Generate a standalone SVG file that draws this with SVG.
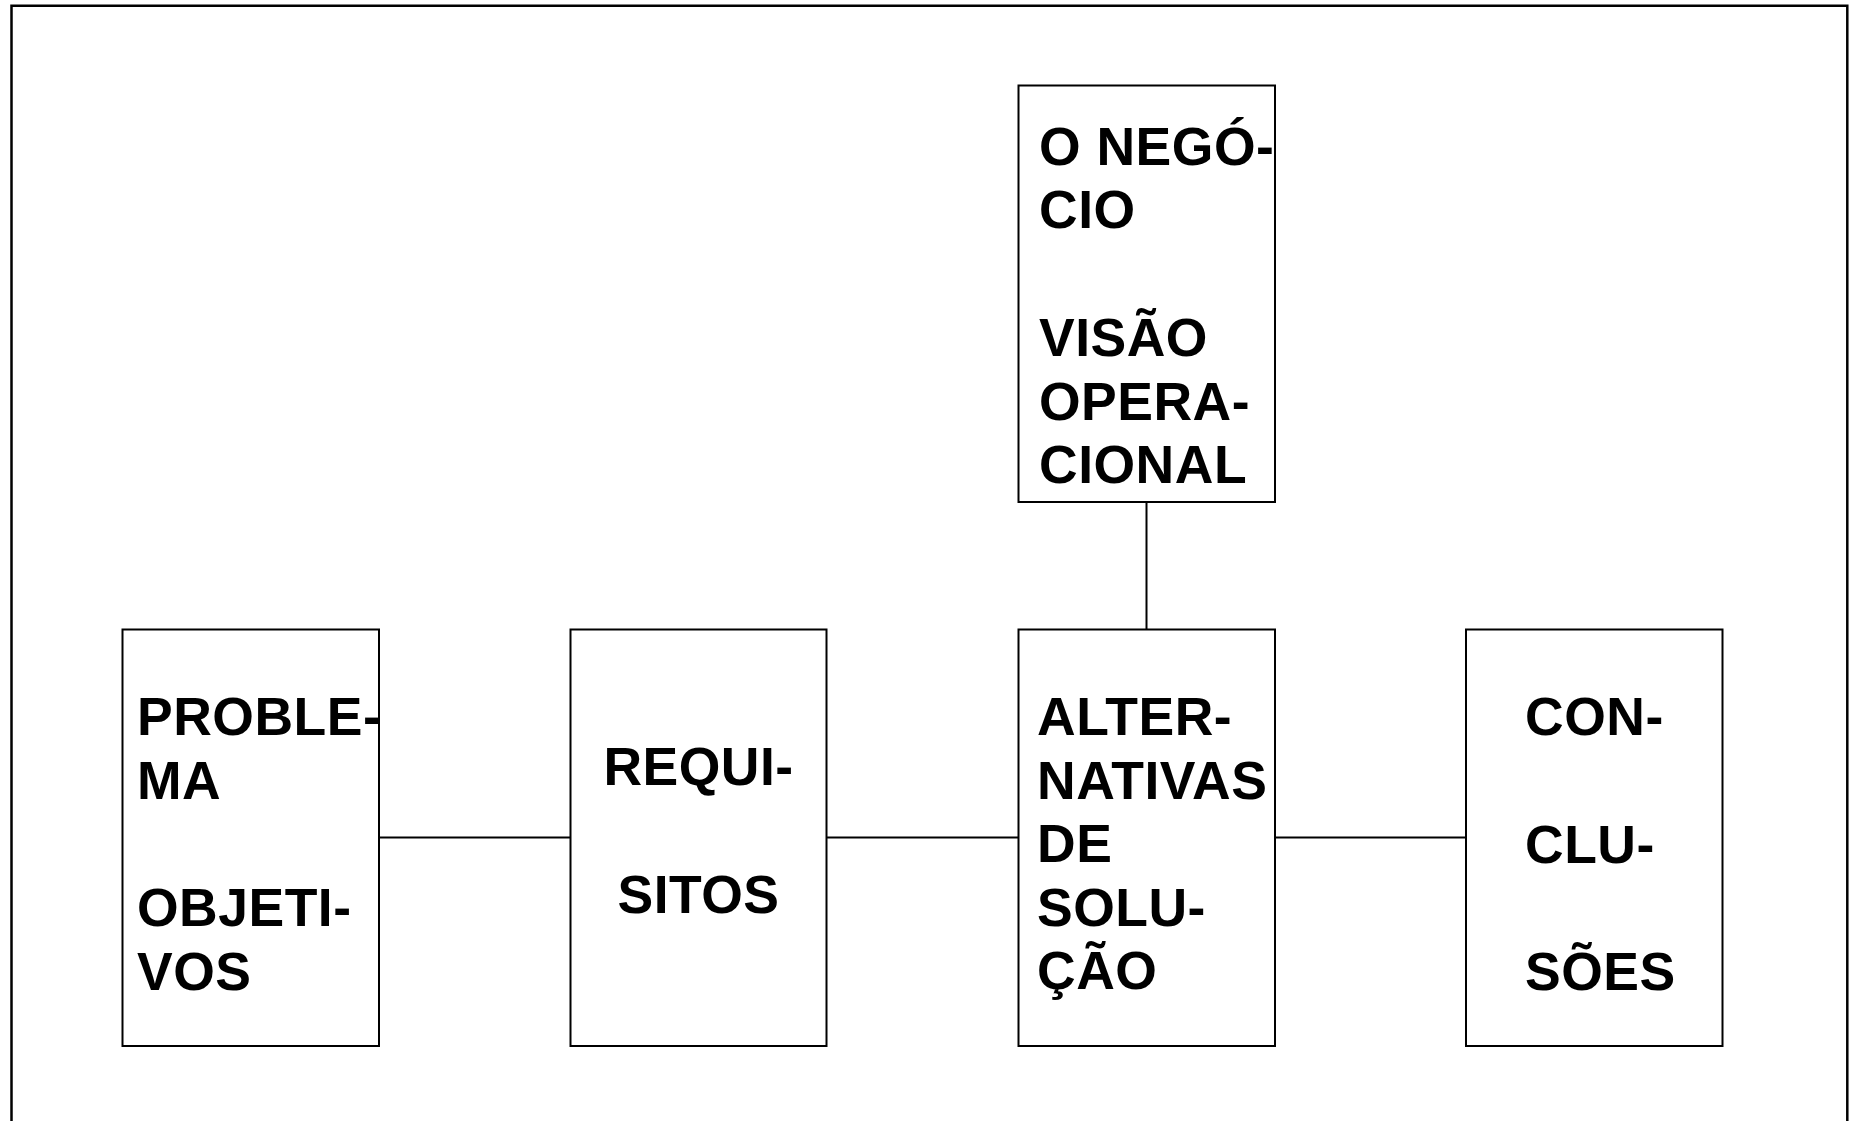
<svg xmlns="http://www.w3.org/2000/svg" width="1851" height="1121" viewBox="0 0 1851 1121">
<style>
.frame{fill:none;stroke:#000;stroke-width:2.5}
.box{fill:#fff;stroke:#000;stroke-width:2}
.conn{stroke:#000;stroke-width:2;fill:none}
.t{font-family:"Liberation Sans",Arial,sans-serif;font-weight:bold;font-size:53.5px;letter-spacing:0.5px;fill:#000}
.c{text-anchor:middle}
</style>
<rect width="1851" height="1121" fill="#fff"/>
<path class="frame" d="M11.5,1130 V5.8 H1847.3 V1130"/>
<g id="connectors">
<line class="conn" x1="379" y1="837.5" x2="570" y2="837.5"/>
<line class="conn" x1="826" y1="837.5" x2="1019" y2="837.5"/>
<line class="conn" x1="1275" y1="837.5" x2="1466" y2="837.5"/>
<line class="conn" x1="1146.5" y1="502" x2="1146.5" y2="629"/>
</g>
<g id="node-negocio">
<rect class="box" x="1018.5" y="85.5" width="256.5" height="416.5"/>
<text class="t"><tspan x="1039" y="164.5">O NEGÓ-</tspan><tspan x="1039" y="228">CIO</tspan><tspan x="1039" y="355.5">VISÃO</tspan><tspan x="1039" y="419.5">OPERA-</tspan><tspan x="1039" y="483">CIONAL</tspan></text>
</g>
<g id="node-problema">
<rect class="box" x="122.5" y="629.5" width="256.5" height="416.5"/>
<text class="t"><tspan x="137" y="735">PROBLE-</tspan><tspan x="137" y="798.5">MA</tspan><tspan x="137" y="926">OBJETI-</tspan><tspan x="137" y="989.5">VOS</tspan></text>
</g>
<g id="node-requisitos">
<rect class="box" x="570.5" y="629.5" width="256" height="416.5"/>
<text class="t c"><tspan x="698.5" y="785">REQUI-</tspan><tspan x="698.5" y="912.5">SITOS</tspan></text>
</g>
<g id="node-alternativas">
<rect class="box" x="1018.5" y="629.5" width="256.5" height="416.5"/>
<text class="t"><tspan x="1037" y="735">ALTER-</tspan><tspan x="1037" y="798.5">NATIVAS</tspan><tspan x="1037" y="862">DE</tspan><tspan x="1037" y="925.5">SOLU-</tspan><tspan x="1037" y="989">ÇÃO</tspan></text>
</g>
<g id="node-conclusoes">
<rect class="box" x="1466" y="629.5" width="256.5" height="416.5"/>
<text class="t"><tspan x="1525" y="735">CON-</tspan><tspan x="1525" y="862.5">CLU-</tspan><tspan x="1525" y="990">SÕES</tspan></text>
</g>
</svg>
